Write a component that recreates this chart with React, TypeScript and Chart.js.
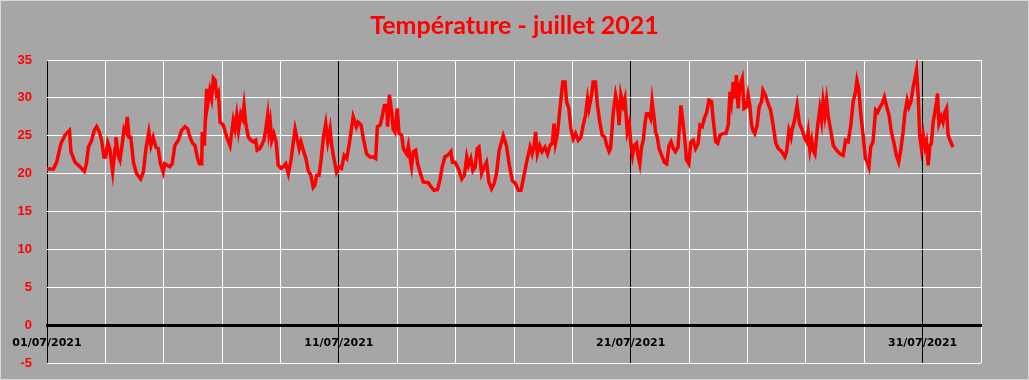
import React, { useEffect, useRef } from "react";
import { Chart, registerables } from "chart.js";

Chart.register(...registerables);

const titleText = "Température - juillet 2021";

// time in days since 01/07/2021 00:00
const times = [
  0.00, 0.22, 0.33, 0.48, 0.62, 0.77, 0.82, 0.96, 1.13, 1.28, 1.35, 1.42, 1.53, 1.62, 1.70, 1.79, 1.87, 1.95, 2.01, 2.08,
  2.15, 2.22, 2.25, 2.33, 2.36, 2.44, 2.50, 2.58, 2.64, 2.70, 2.75, 2.81, 2.87, 2.96, 3.07, 3.21, 3.30, 3.39, 3.49, 3.56,
  3.64, 3.73, 3.81, 3.89, 3.98, 4.03, 4.21, 4.29, 4.38, 4.50, 4.61, 4.73, 4.82, 4.90, 4.99, 5.07, 5.16, 5.22, 5.30, 5.32,
  5.39, 5.47, 5.50, 5.58, 5.64, 5.70, 5.76, 5.81, 5.87, 5.93, 6.04, 6.16, 6.27, 6.33, 6.38, 6.44, 6.50, 6.56, 6.64, 6.70,
  6.75, 6.81, 6.90, 6.99, 7.07, 7.15, 7.20, 7.29, 7.35, 7.43, 7.49, 7.56, 7.60, 7.65, 7.70, 7.77, 7.85, 7.92, 8.02, 8.10,
  8.18, 8.27, 8.36, 8.44, 8.50, 8.56, 8.64, 8.70, 8.78, 8.87, 8.95, 9.04, 9.12, 9.18, 9.24, 9.32, 9.39, 9.47, 9.55, 9.62,
  9.70, 9.76, 9.83, 9.92, 10.00, 10.09, 10.18, 10.27, 10.36, 10.49, 10.60, 10.66, 10.76, 10.84, 10.95, 11.07, 11.18, 11.26, 11.32, 11.41,
  11.47, 11.56, 11.64, 11.67, 11.73, 11.81, 11.86, 11.92, 12.00, 12.06, 12.15, 12.21, 12.32, 12.38, 12.44, 12.49, 12.55, 12.63, 12.70, 12.78,
  12.89, 13.06, 13.17, 13.26, 13.38, 13.46, 13.54, 13.63, 13.75, 13.84, 13.89, 13.98, 14.09, 14.21, 14.30, 14.38, 14.44, 14.52, 14.59, 14.67,
  14.74, 14.80, 14.89, 14.98, 15.06, 15.14, 15.23, 15.32, 15.40, 15.49, 15.63, 15.74, 15.84, 15.94, 16.05, 16.15, 16.24, 16.32, 16.43, 16.55,
  16.62, 16.69, 16.74, 16.80, 16.88, 16.96, 17.06, 17.15, 17.23, 17.31, 17.37, 17.42, 17.49, 17.55, 17.61, 17.67, 17.75, 17.80, 17.88, 17.95,
  18.03, 18.11, 18.20, 18.29, 18.37, 18.45, 18.52, 18.57, 18.66, 18.71, 18.79, 18.86, 18.94, 19.02, 19.11, 19.18, 19.26, 19.31, 19.40, 19.48,
  19.55, 19.60, 19.66, 19.74, 19.80, 19.88, 19.95, 20.00, 20.06, 20.12, 20.20, 20.25, 20.31, 20.37, 20.43, 20.48, 20.54, 20.62, 20.68, 20.73,
  20.79, 20.85, 20.91, 20.97, 21.06, 21.15, 21.23, 21.31, 21.38, 21.46, 21.53, 21.62, 21.72, 21.80, 21.86, 21.91, 21.99, 22.06, 22.14, 22.22,
  22.31, 22.37, 22.45, 22.52, 22.60, 22.68, 22.77, 22.81, 22.91, 22.98, 23.06, 23.18, 23.26, 23.34, 23.40, 23.45, 23.51, 23.57, 23.62, 23.68,
  23.74, 23.82, 23.88, 23.96, 24.02, 24.08, 24.14, 24.19, 24.25, 24.33, 24.40, 24.48, 24.53, 24.61, 24.70, 24.79, 24.87, 24.97, 25.06, 25.17,
  25.28, 25.34, 25.42, 25.49, 25.53, 25.60, 25.70, 25.78, 25.86, 25.97, 26.03, 26.08, 26.14, 26.20, 26.25, 26.31, 26.40, 26.48, 26.54, 26.59,
  26.65, 26.71, 26.77, 26.86, 26.94, 27.05, 27.17, 27.28, 27.36, 27.45, 27.54, 27.62, 27.70, 27.75, 27.81, 27.88, 27.96, 28.04, 28.11, 28.16,
  28.22, 28.30, 28.39, 28.46, 28.54, 28.62, 28.69, 28.77, 28.85, 28.93, 29.02, 29.10, 29.18, 29.25, 29.33, 29.39, 29.47, 29.53, 29.60, 29.68,
  29.74, 29.79, 29.85, 29.90, 29.96, 30.02, 30.08, 30.13, 30.19, 30.25, 30.30, 30.36, 30.42, 30.48, 30.51, 30.56, 30.64, 30.70, 30.76, 30.82,
  30.87, 30.96, 31.04,
];

const temps = [
  20.6, 20.6, 21.5, 24.0, 25.1, 25.7, 22.9, 21.5, 20.9, 20.3, 21.3, 23.5, 24.4, 25.7, 26.2, 25.5, 24.4, 22.2, 22.2, 24.1,
  23.3, 21.1, 20.2, 23.3, 24.8, 22.4, 21.8, 24.0, 25.9, 25.5, 27.5, 24.8, 24.8, 21.5, 20.0, 19.3, 20.2, 23.3, 25.5, 23.7,
  24.8, 23.5, 23.3, 21.3, 20.2, 21.3, 20.9, 21.3, 23.7, 24.4, 25.7, 26.2, 25.9, 24.8, 24.0, 23.7, 22.0, 21.3, 21.3, 25.5,
  23.7, 31.2, 29.0, 31.0, 29.9, 32.6, 32.3, 30.4, 30.8, 26.8, 26.4, 24.8, 23.7, 25.5, 27.0, 25.9, 27.7, 25.7, 27.9, 27.3,
  29.0, 26.6, 24.8, 24.4, 24.2, 24.4, 23.1, 23.3, 23.7, 24.4, 25.7, 27.7, 25.5, 26.8, 24.4, 25.3, 24.2, 21.1, 20.7, 20.9,
  21.3, 20.0, 21.8, 24.2, 25.9, 24.8, 23.3, 24.2, 23.1, 22.0, 20.4, 19.8, 18.2, 18.5, 19.8, 19.8, 21.8, 24.8, 26.6, 24.2,
  25.9, 23.5, 22.0, 20.2, 20.9, 20.7, 22.4, 22.0, 24.0, 27.5, 26.2, 26.8, 26.4, 24.6, 22.6, 22.2, 22.2, 22.0, 26.2, 26.4,
  27.3, 29.0, 29.0, 26.2, 30.4, 28.1, 25.9, 25.5, 28.6, 25.3, 25.1, 23.3, 22.6, 23.7, 22.0, 20.9, 22.9, 23.1, 21.3, 20.2,
  18.9, 18.8, 18.2, 17.8, 17.9, 19.1, 20.9, 22.2, 22.5, 22.9, 21.5, 21.5, 20.7, 19.3, 19.8, 22.2, 21.1, 22.0, 20.4, 20.9,
  23.3, 23.5, 20.0, 20.9, 21.5, 18.9, 18.0, 18.7, 20.0, 23.0, 25.0, 23.7, 21.1, 19.1, 18.7, 17.8, 17.8, 19.3, 21.5, 23.5,
  22.6, 23.7, 25.5, 22.6, 23.7, 22.9, 23.5, 22.6, 23.7, 24.0, 26.6, 24.0, 25.3, 27.7, 29.9, 32.1, 32.1, 29.5, 28.6, 25.9,
  24.6, 25.3, 24.4, 24.8, 26.4, 27.7, 29.9, 28.6, 30.4, 32.1, 32.1, 29.0, 26.8, 25.1, 24.8, 23.7, 22.9, 23.3, 28.1, 30.4,
  29.0, 26.4, 30.4, 29.0, 29.9, 25.5, 26.6, 24.0, 22.4, 23.7, 24.0, 22.4, 21.3, 23.5, 24.4, 26.4, 27.9, 27.9, 27.3, 29.6,
  27.7, 25.5, 24.8, 23.3, 22.4, 21.5, 21.3, 23.7, 24.2, 23.3, 22.9, 23.5, 29.0, 26.4, 24.2, 21.8, 21.3, 24.2, 24.4, 23.3,
  24.0, 26.4, 26.2, 27.3, 28.1, 29.7, 29.5, 27.7, 24.2, 24.0, 25.1, 25.3, 25.3, 26.4, 30.8, 29.5, 32.1, 29.9, 33.0, 28.6,
  31.7, 32.6, 28.6, 28.8, 30.4, 29.0, 26.4, 25.7, 25.3, 26.4, 28.8, 29.5, 31.0, 30.4, 29.3, 28.4, 26.6, 24.0, 23.3, 22.9,
  22.2, 22.9, 25.7, 24.8, 25.9, 26.8, 29.0, 26.6, 25.9, 24.6, 24.2, 25.5, 23.1, 24.4, 23.1, 22.6, 26.2, 28.6, 27.0, 29.5,
  27.7, 29.7, 27.5, 25.5, 23.7, 23.1, 22.6, 22.4, 24.4, 24.2, 26.4, 29.5, 30.8, 32.3, 31.2, 27.9, 25.1, 22.0, 21.5, 20.9,
  23.5, 24.2, 28.4, 28.1, 28.8, 29.3, 30.1, 28.8, 27.7, 25.5, 24.0, 22.4, 21.5, 23.1, 25.5, 27.9, 29.7, 28.8, 29.5, 31.5,
  32.6, 33.7, 30.1, 25.1, 23.3, 25.1, 23.5, 24.2, 21.1, 23.7, 24.0, 26.8, 28.1, 29.5, 30.6, 26.6, 27.5, 26.8, 28.1, 28.6,
  25.1, 24.2, 23.5,
];

const xTickDays = [0, 10, 20, 30];
const xTickLabels = ["01/07/2021", "11/07/2021", "21/07/2021", "31/07/2021"];
const yMin = -5;
const yMax = 35;
const yStep = 5;
const xMin = 0;
const xMax = 32;
const xStep = 2;

const bgPlugin = {
  id: "bgFrame",
  beforeDraw(chart: any) {
    const { ctx, width, height } = chart;
    ctx.save();
    ctx.fillStyle = "#a6a6a6";
    ctx.fillRect(0, 0, width, height);
    ctx.strokeStyle = "#d9d9d9";
    ctx.lineWidth = 1;
    ctx.strokeRect(0.5, 0.5, width - 1, height - 1);
    ctx.restore();
  },
};

export default function App() {
  const ref = useRef<HTMLCanvasElement>(null);
  useEffect(() => {
    document.body.style.margin = "0";
    if (!ref.current) return;
    const data = times.map((t, i) => ({ x: t, y: temps[i] }));
    const chart = new Chart(ref.current, {
      type: "line",
      data: {
        datasets: [
          {
            data,
            borderColor: "#ff0000",
            borderWidth: 3.5,
            pointRadius: 0,
            tension: 0,
            fill: false,
          },
        ],
      },
      options: {
        animation: false,
        responsive: false,
        maintainAspectRatio: false,
        layout: { padding: { left: 0, right: 0, top: 0, bottom: 17 } },
        plugins: {
          legend: { display: false },
          tooltip: { enabled: false },
          title: {
            display: true,
            text: titleText,
            color: "#ff0000",
            font: { family: "Lato", size: 25, weight: "bold" },
            padding: { top: 11, bottom: 19 },
          },
        },
        scales: {
          x: {
            type: "linear",
            min: xMin,
            max: xMax,
            position: { y: 0 } as any,
            border: { display: true, color: "#000000", width: 3 },
            afterFit: (s: any) => {
              s.height = 0;
            },
            grid: {
              drawTicks: false,
              color: (c: any) => (xTickDays.includes(c.tick?.value) ? "#000000" : "#ffffff"),
              lineWidth: 1,
            },
            ticks: {
              stepSize: xStep,
              autoSkip: false,
              maxRotation: 0,
              padding: 11,
              color: "#000000",
              font: { family: "DejaVu Sans", size: 11, weight: "bold" },
              callback: (v: any) => {
                const i = xTickDays.indexOf(Number(v));
                return i >= 0 ? xTickLabels[i] : "";
              },
            },
          },
          y: {
            type: "linear",
            min: yMin,
            max: yMax,
            border: { display: false },
            afterFit: (s: any) => {
              s.width = 47;
              s.paddingBottom = 8;
              s.paddingTop = 8;
            },
            grid: {
              drawTicks: false,
              color: (c: any) => (c.tick?.value === 0 ? "#000000" : "#ffffff"),
              lineWidth: (c: any) => (c.tick?.value === 0 ? 3 : 1),
            },
            ticks: {
              stepSize: yStep,
              padding: 15,
              color: "#ff0000",
              font: { family: "Liberation Sans", size: 13, weight: "bold" },
            },
          },
          yRight: {
            type: "linear",
            position: "right",
            min: yMin,
            max: yMax,
            display: true,
            border: { display: false },
            grid: { display: false, drawTicks: false },
            ticks: { display: false },
            afterFit: (s: any) => {
              s.width = 48;
              s.paddingBottom = 0;
              s.paddingTop = 0;
            },
          },
        },
      },
      plugins: [bgPlugin],
    });
    return () => chart.destroy();
  }, []);
  return (
    <div style={{ width: 1029, height: 380 }}>
      <canvas ref={ref} width={1029} height={380} style={{ display: "block" }} />
    </div>
  );
}
